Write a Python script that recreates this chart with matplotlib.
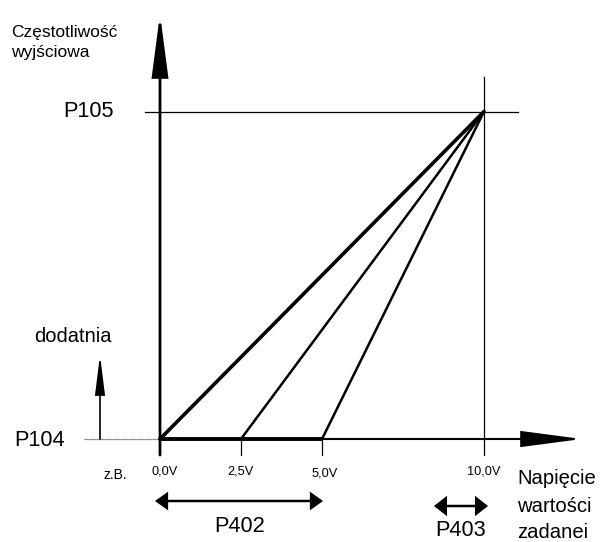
import matplotlib
matplotlib.use("Agg")
import matplotlib.pyplot as plt

plt.rcParams['font.family'] = ['Liberation Sans', 'DejaVu Sans']

# Data: start voltages of the characteristic lines and end point (10 V -> P105)
start_volts = [0.0, 2.5, 5.0]
line_widths = [2.6, 1.8, 1.8]
end_volt = 10.0
f_min, f_max = 0.0, 1.0          # P104 level, P105 level
tick_volts = [0.0, 2.5, 5.0, 10.0]
tick_labels = ["0,0V", "2,5V", "5,0V", "10,0V"]

W, H = 601, 542
fig = plt.figure(figsize=(W / 100, H / 100), dpi=100)
ax = fig.add_axes([0, 0, 1, 1])
# pixel geometry: 0 V at x=160 px, 10 V at x=484 px; P104 at y=438 px, P105 at y=111 px
x0, xs = 160.0, 32.4
y0, ys = 439.0, 327.5
ax.set_xlim(-x0 / xs, (W - x0) / xs)
ax.set_ylim((y0 - H) / ys, y0 / ys)
ax.axis('off')

def X(px):
    return (px - x0) / xs

def Y(py):
    return (y0 - py) / ys

k = 'black'

def arrow(x1, y1, x2, y2, hl, hw, lw=1.8, both=False):
    style = ('<|-|>' if both else '-|>') + f',head_length={hl},head_width={hw}'
    ax.annotate('', xy=(x2, y2), xytext=(x1, y1),
                arrowprops=dict(arrowstyle=style, color=k, lw=lw,
                                shrinkA=0, shrinkB=0, mutation_scale=1,
                                joinstyle='miter'))

# main vertical axis with arrow
arrow(0, Y(455), 0, Y(14), 38, 5, lw=2.0)
# main horizontal axis
arrow(0, f_min, X(582), f_min, 38, 5, lw=1.5)
# thick base part up to 5 V
ax.plot([0, 5.0], [f_min, f_min], color=k, lw=2.8, solid_capstyle='butt')

# P105 horizontal guide and 10 V vertical guide
ax.plot([X(145), X(518)], [f_max, f_max], color=k, lw=0.9)
ax.plot([end_volt, end_volt], [Y(455), Y(77)], color=k, lw=0.9)
# P104 guide (dotted thin)
ax.plot([X(84), 0], [f_min, f_min], color='#555555', lw=0.9, ls=(0, (1, 0.6)))

# ticks below axis
for v in tick_volts[1:3]:
    ax.plot([v, v], [f_min, Y(455)], color=k, lw=0.9)

# characteristic lines
for v, lw in zip(start_volts, line_widths):
    ax.plot([v, end_volt], [f_min, f_max], color=k, lw=lw, solid_capstyle='round')

# small "dodatnia" arrow
arrow(X(100), f_min, X(100), Y(355), 24, 3, lw=1.2)

# P402 and P403 double arrows
arrow(X(155), Y(501), X(323), Y(501), 7, 5, lw=1.8, both=True)
arrow(X(434), Y(506), X(488), Y(506), 7, 5.5, lw=1.8, both=True)

# texts
ax.text(X(11), Y(33), "Częstotliwość", fontsize=12.5, ha='left', va='center')
ax.text(X(11), Y(53), "wyjściowa", fontsize=12.5, ha='left', va='center')
ax.text(X(88), f_max, "P105", fontsize=15.7, ha='center', va='center')
ax.text(X(73), Y(336), "dodatnia", fontsize=14.5, ha='center', va='center')
ax.text(X(40), Y(440), "P104", fontsize=15.7, ha='center', va='center')
ax.text(X(115), Y(475), "z.B.", fontsize=10, ha='center', va='center')
label_y = [472, 471, 473, 472]
label_dx = [5, 0, 3, 0]
for v, t, ly, dx in zip(tick_volts, tick_labels, label_y, label_dx):
    ax.text(v + dx / xs, Y(ly), t, fontsize=9.2, ha='center', va='center')
ax.text(X(240), Y(527), "P402", fontsize=15.7, ha='center', va='center')
ax.text(X(461), Y(530), "P403", fontsize=15.7, ha='center', va='center')
ax.text(X(517), Y(479), "Napięcie", fontsize=14.6, ha='left', va='center')
ax.text(X(517), Y(506), "wartości", fontsize=14.6, ha='left', va='center')
ax.text(X(517), Y(533), "zadanei", fontsize=14.6, ha='left', va='center')

fig.savefig("out.png", dpi=100)
